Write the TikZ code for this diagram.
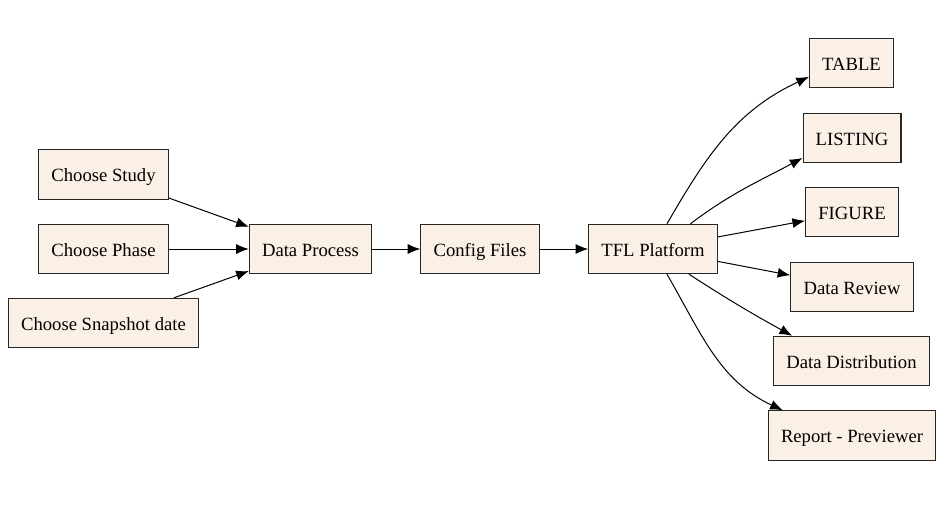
\documentclass[tikz,border=0pt]{standalone}
\usepackage{fontspec}
\setmainfont{Liberation Serif}
\usetikzlibrary{arrows.meta}
\definecolor{linen}{HTML}{FAF0E6}
\begin{document}
\begin{tikzpicture}[x=0.75pt,y=-0.75pt]
		\tikzstyle{box}=[rectangle,draw=black!85,line width=0.8pt,fill=linen,minimum height=37pt,inner xsep=9.5pt,text height=11.5pt,text depth=0.5pt,font=\fontsize{14}{16}\selectfont]
		\tikzstyle{edge}=[draw=black,line width=0.75pt,-{Latex[length=9.5pt,width=7.5pt]}]

		\useasboundingbox (0,0) rectangle (948,519);

		 \node [box] (study) at (103.5,174.5) {Choose Study};
		 \node [box] (phase) at (103.5,249) {Choose Phase};
		 \node [box] (snap) at (103.5,323) {Choose Snapshot date};
		 \node [box] (proc) at (310.5,249) {Data Process};
		 \node [box] (conf) at (480,249) {Config Files};
		 \node [box] (tfl) at (653,249) {TFL Platform};

		 \node [box] (table) at (851.5,63) {TABLE};
		 \node [box] (listing) at (852,138) {LISTING};
		 \node [box] (figure) at (852,212) {FIGURE};
		 \node [box] (review) at (852,287) {Data Review};
		 \node [box] (distr) at (851.5,361) {Data Distribution};
		 \node [box] (report) at (852,435.5) {Report - Previewer};

		 \path[edge] (study) -- (proc);
		 \path[edge] (phase) -- (proc);
		 \path[edge] (snap) -- (proc);
		 \path[edge] (proc) -- (conf);
		 \path[edge] (conf) -- (tfl);

		 \path[edge] (tfl.61) to[out=60,in=205] (table.198);
		 \path[edge] (tfl.34) to[out=37,in=208] (listing.202);
		 \path[edge] (tfl) -- (figure);
		 \path[edge] (tfl) -- (review);
		 \path[edge] (tfl.-35) to[out=-33,in=151] (distr.157);
		 \path[edge] (tfl.-61) to[out=-60,in=155] (report.160);

\end{tikzpicture}
\end{document}
